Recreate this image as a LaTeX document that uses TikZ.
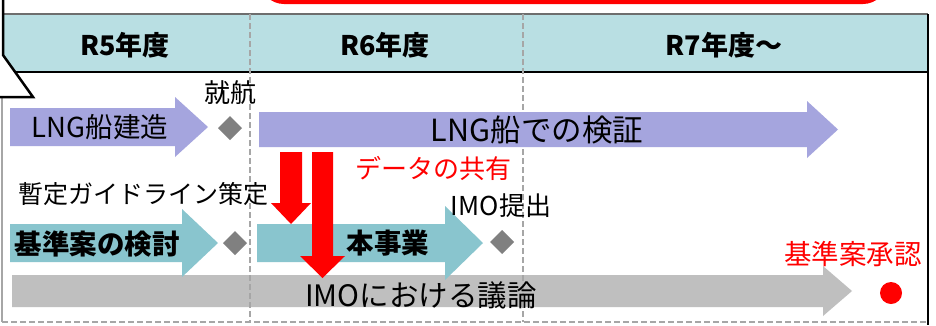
\documentclass[tikz,border=0pt]{standalone}
\usepackage{fontspec}
\setmainfont{Noto Sans CJK JP}
\definecolor{lav}{RGB}{165,165,222}
\definecolor{hdr}{RGB}{185,223,227}
\definecolor{tealar}{RGB}{137,197,206}
\definecolor{gbar}{RGB}{191,191,191}
\definecolor{dia}{RGB}{128,128,128}
\definecolor{dashg}{RGB}{166,166,166}
\definecolor{hdrtop}{RGB}{110,110,110}
\newcommand\harrow[7]{% x1 tip ymid bodyhalf headhalf headlen color
  \fill[#7] (#1,#3-#4) -- (#2-#6,#3-#4) -- (#2-#6,#3-#5) -- (#2,#3) -- (#2-#6,#3+#5) -- (#2-#6,#3+#4) -- (#1,#3+#4) -- cycle;}
\newcommand\varrow[6]{% xc ytop ytip shafthalf headhalf headlen
  \fill[red] (#1-#4,#2) -- (#1+#4,#2) -- (#1+#4,#3-#6) -- (#1+#5,#3-#6) -- (#1,#3) -- (#1-#5,#3-#6) -- (#1-#4,#3-#6) -- cycle;}
\newcommand\diam[2]{\fill[dia] (#1-12,#2) -- (#1,#2-12) -- (#1+12,#2) -- (#1,#2+12) -- cycle;}
\tikzset{
  fs/.style={font=\fontsize{#1pt}{#1pt}\selectfont, inner sep=0pt, anchor=base, yshift=-0.38*#1pt},
  fsb/.style={font=\fontsize{#1pt}{#1pt}\selectfont\bfseries, inner sep=0pt, anchor=base, yshift=-0.38*#1pt},
  dsh/.style={dashg, line width=1.5pt, dash pattern=on 6pt off 3pt},
}
\begin{document}
\begin{tikzpicture}[x=1pt,y=-1pt]
\useasboundingbox (0,0) rectangle (936,325);
\clip (0,0) rectangle (936,325);
\fill[white] (0,0) rectangle (936,325);
% red rounded box (bottom edge visible)
\draw[red, line width=4pt, rounded corners=22pt, fill=white] (262,-60) rectangle (885,2);
% header band
\fill[hdr] (3,14) rectangle (928,72);
\draw[hdrtop, line width=1.2pt] (3,14) -- (928,14);
\draw[black, line width=1.8pt] (3,72) -- (928,72);
% frame
\draw[dashg, line width=1.5pt] (2,97) -- (2,322);
\draw[black, line width=1.5pt] (928,14) -- (928,325);
% gray bar under dashed lines
\harrow{12}{852}{291}{16}{25}{29}{gbar}
% dashed lines
\draw[dsh] (250,14) -- (250,322);
\draw[dsh] (523,14) -- (523,322);
\draw[dsh] (2,322) -- (928,322);
% callout pointer
\filldraw[fill=white, draw=black, line width=2.5pt, line join=miter] (3,-5) -- (3,55) -- (33,97) -- (-5,97);
% header texts
\node[fsb=27] (r5) at (125,45) {R5年度};
\node[fsb=27] (r6) at (385,45) {R6年度};
\node[fsb=27] (r7) at (724,45) {R7年度〜};
% row 1
\harrow{10}{208}{127}{19}{30}{33}{lav}
\harrow{259}{838}{129.5}{17.5}{28.5}{31}{lav}
\diam{230}{128}
\node[fs=26] (shuko) at (230,93) {就航};
\node[fs=27.5] (lngb) at (100,127) {LNG船建造};
\node[fs=30.5] (lngv) at (537,130) {LNG船での検証};
% row 2
\harrow{10}{218}{243}{19}{34}{36}{tealar}
\harrow{257}{483}{243}{19}{37}{38}{tealar}
\diam{235}{243}
\diam{502}{242}
\node[fs=25] (zantei) at (143,194) {暫定ガイドライン策定};
\node[fs=26, text=red] (data) at (433,169) {データの共有};
\node[fs=26] (imot) at (501,206) {IMO提出};
\node[fsb=27.5] (kijun) at (97,244) {基準案の検討};
\node[fsb=27.5] (hon) at (388,243) {本事業};
\node[fs=27.5, text=red] (shonin) at (853,254) {基準案承認};
\fill[red] (891,293) circle (11);
% red arrows
\varrow{291}{152}{224}{11}{20}{21}
\varrow{322.5}{152}{278}{10.5}{22.5}{22}
% row 3 text
\node[fs=29.5] (imo) at (421,295) {IMOにおける議論};
\end{tikzpicture}
\end{document}
